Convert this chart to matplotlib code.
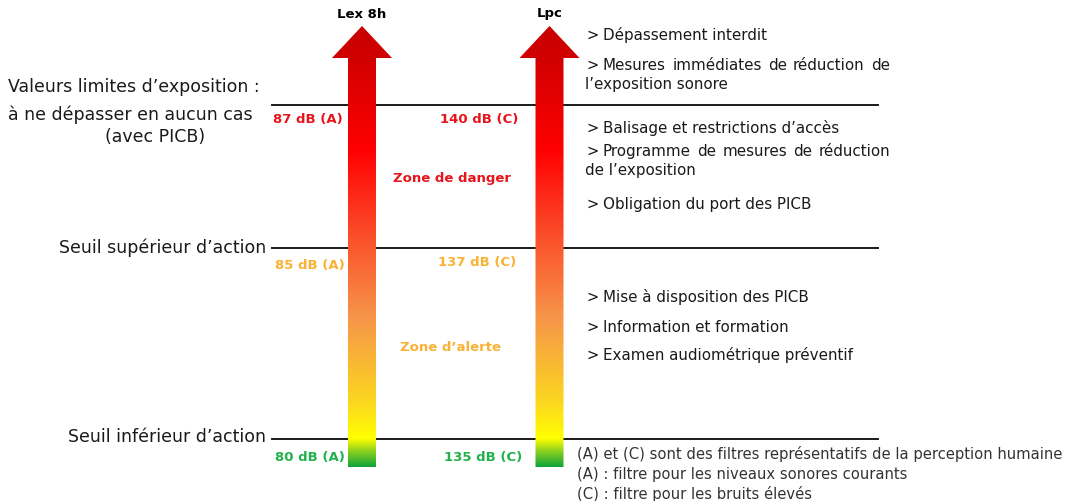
import matplotlib
matplotlib.use("Agg")
import matplotlib.pyplot as plt
import numpy as np
from matplotlib.colors import LinearSegmentedColormap
from matplotlib.patches import Polygon

plt.rcParams['font.family'] = ['DejaVu Sans']

# ---------------- data ----------------
indicators = ["Lex 8h", "Lpc"]
threshold_names = ["Valeurs limites d\u2019exposition :\nà ne dépasser en aucun cas",
                   "Seuil supérieur d\u2019action",
                   "Seuil inférieur d\u2019action"]
lex_values = ["87 dB (A)", "85 dB (A)", "80 dB (A)"]
lpc_values = ["140 dB (C)", "137 dB (C)", "135 dB (C)"]
level_colors = ["#e8141c", "#f9b233", "#22b14c"]
zones = ["Zone de danger", "Zone d\u2019alerte"]
zone_colors = ["#e8141c", "#f9b233"]
actions_limit = ["Dépassement interdit",
                 "Mesures immédiates de réduction de\nl\u2019exposition sonore"]
actions_upper = ["Balisage et restrictions d\u2019accès",
                 "Programme de mesures de réduction\nde l\u2019exposition",
                 "Obligation du port des PICB"]
actions_lower = ["Mise à disposition des PICB",
                 "Information et formation",
                 "Examen audiométrique préventif"]
footnotes = ["(A) et (C) sont des filtres représentatifs de la perception humaine",
             "(A) : filtre pour les niveaux sonores courants",
             "(C) : filtre pour les bruits élevés"]

# gradient stops (fraction from bottom of arrow, colour)
grad_pos = [0.0, 0.035, 0.063, 0.143, 0.234, 0.336, 0.494, 0.608, 0.72, 0.925, 1.0]
grad_col = ["#13a538", "#8fd11f", "#ffff00", "#fcd81f", "#f9b933", "#f7964a",
            "#fa5a2f", "#fd2c1a", "#ff0000", "#d20000", "#c80000"]

# ---------------- layout ----------------
W, H = 1075, 502
fig = plt.figure(figsize=(W / 100, H / 100), dpi=100)
ax = fig.add_axes([0, 0, 1, 1])
ax.set_xlim(0, W)
ax.set_ylim(H, 0)
ax.axis('off')
renderer = fig.canvas.get_renderer()

line_y = [106.3, 249.3, 439.5]
line_x0, line_x1 = 272, 878
arrow_cx = [362, 549.5]
shaft_half = 14
head_half = 30
apex_y, head_base_y, bottom_y = 27, 59, 468

for y in line_y:
    ax.plot([line_x0, line_x1], [y, y], color="#1a1a1a", lw=1.4, zorder=1)

cmap = LinearSegmentedColormap.from_list("noise", list(zip(grad_pos, grad_col)))
grad = np.linspace(1, 0, 512).reshape(-1, 1)
for cx, name in zip(arrow_cx, indicators):
    pts = [(cx - shaft_half, bottom_y), (cx - shaft_half, head_base_y),
           (cx - head_half, head_base_y), (cx, apex_y),
           (cx + head_half, head_base_y), (cx + shaft_half, head_base_y),
           (cx + shaft_half, bottom_y)]
    poly = Polygon(pts, closed=True, facecolor='none', edgecolor='none')
    ax.add_patch(poly)
    im = ax.imshow(grad, cmap=cmap, aspect='auto', vmin=0, vmax=1,
                   extent=[cx - head_half, cx + head_half, bottom_y, apex_y],
                   zorder=2, interpolation='bilinear')
    im.set_clip_path(poly)
    ax.text(cx, 14, name, ha='center', va='center', fontsize=9.5,
            fontweight='bold', color='black')

TXT = '#1a1a1a'
LFS = 12.5
# left labels
ax.text(8, 87, "Valeurs limites d\u2019exposition :", ha='left', va='center',
        fontsize=LFS, color=TXT)
ax.text(8, 115, "à ne dépasser en aucun cas", ha='left', va='center',
        fontsize=LFS, color=TXT)
ax.text(155, 137, "(avec PICB)", ha='center', va='center',
        fontsize=LFS, color=TXT)
ax.text(266, 248, threshold_names[1], ha='right', va='center',
        fontsize=LFS, color=TXT)
ax.text(266, 437, threshold_names[2], ha='right', va='center',
        fontsize=LFS, color=TXT)

# value labels
lex_xy = [(308, 119), (310, 266), (310, 458)]
lpc_xy = [(479, 119), (477, 263), (483, 458)]
for (x, y), s, c in zip(lex_xy, lex_values, level_colors):
    ax.text(x, y, s, ha='center', va='center', fontsize=9.5,
            fontweight='bold', color=c)
for (x, y), s, c in zip(lpc_xy, lpc_values, level_colors):
    ax.text(x, y, s, ha='center', va='center', fontsize=9.5,
            fontweight='bold', color=c)

ax.text(452, 179, zones[0], ha='center', va='center', fontsize=9.5,
        fontweight='bold', color=zone_colors[0])
ax.text(450, 348, zones[1], ha='center', va='center', fontsize=9.5,
        fontweight='bold', color=zone_colors[1])

# actions
bx, tx, jx = 587, 603, 890
BFS = 10.9
BASE = 5  # baseline offset below line centre


def justified(x0, x1, yb, text):
    words = text.split()
    objs = [ax.text(0, yb, w, ha='left', va='baseline', fontsize=BFS, color=TXT)
            for w in words]
    widths = [o.get_window_extent(renderer).width for o in objs]
    gap = (x1 - x0 - sum(widths)) / (len(words) - 1)
    x = x0
    for o, w in zip(objs, widths):
        o.set_x(x)
        x += w + gap


def bullet(y, text):
    lines = text.split("\n")
    yb = y + BASE
    ax.text(bx, yb, ">", ha='left', va='baseline', fontsize=10.5, color=TXT)
    if len(lines) > 1:
        justified(tx, jx, yb, lines[0])
    else:
        ax.text(tx, yb, lines[0], ha='left', va='baseline', fontsize=BFS, color=TXT)
    for i, extra in enumerate(lines[1:]):
        ax.text(bx - 2, yb + 19 * (i + 1), extra, ha='left', va='baseline',
                fontsize=BFS, color=TXT)


for y, t in zip([35, 65], actions_limit):
    bullet(y, t)
for y, t in zip([128, 151, 204], actions_upper):
    bullet(y, t)
for y, t in zip([297, 327, 355], actions_lower):
    bullet(y, t)

for y, t in zip([454, 475, 494], footnotes):
    ax.text(577, y, t, ha='left', va='center', fontsize=10.6, color='#333333')

fig.savefig("out.png", dpi=100)
